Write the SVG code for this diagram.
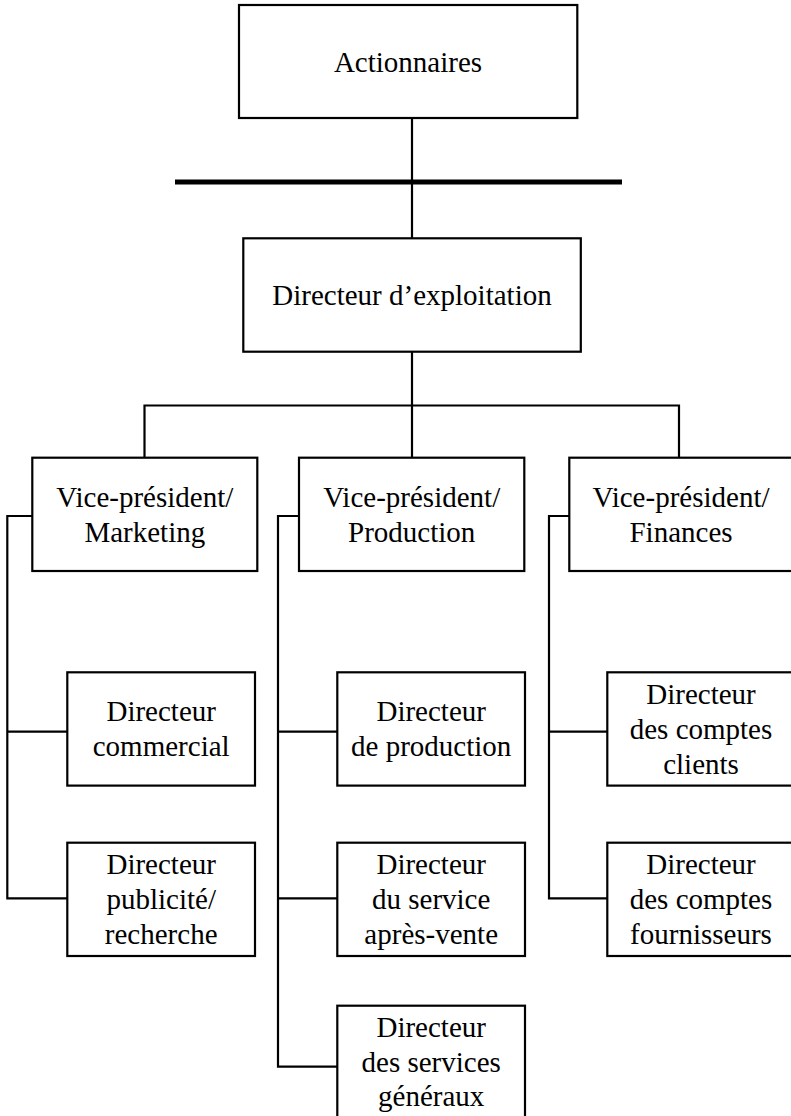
<svg xmlns="http://www.w3.org/2000/svg" width="791" height="1116" viewBox="0 0 791 1116">
<style>
.box{fill:#fff;stroke:#000;stroke-width:2.2}
.ln{fill:none;stroke:#000;stroke-width:2.2}
.thick{fill:none;stroke:#000;stroke-width:5}
text{font-family:"Liberation Serif","Times New Roman",serif;font-size:29px;fill:#000;text-anchor:middle}
</style>
<rect width="791" height="1116" fill="#fff"/>
<g id="connectors">
<line class="thick" x1="175" y1="182" x2="622" y2="182"/>
<line class="ln" x1="412" y1="118" x2="412" y2="238.3"/>
<line class="ln" x1="412" y1="351.7" x2="412" y2="457.7"/>
<polyline class="ln" points="144.5,457.7 144.5,405.5 679,405.5 679,459"/>
<polyline class="ln" points="32.3,516 7.3,516 7.3,898.3 67.3,898.3"/>
<line class="ln" x1="7.3" y1="731.7" x2="67.3" y2="731.7"/>
<polyline class="ln" points="299,516 278,516 278,1066.7 337.3,1066.7"/>
<line class="ln" x1="278" y1="731.7" x2="337.3" y2="731.7"/>
<line class="ln" x1="278" y1="898.3" x2="337.3" y2="898.3"/>
<polyline class="ln" points="569.3,516 549,516 549,898.3 607.3,898.3"/>
<line class="ln" x1="549" y1="731.7" x2="607.3" y2="731.7"/>
</g>
<g id="actionnaires"><rect class="box" x="239" y="5" width="338.3" height="113"/><text x="408" y="71.5">Actionnaires</text></g>
<g id="directeur-exploitation"><rect class="box" x="243.3" y="238.3" width="337.5" height="113.4"/><text x="412" y="305">Directeur d’exploitation</text></g>
<g id="vp-marketing"><rect class="box" x="32.3" y="457.7" width="225" height="113.3"/><text x="144.8" y="506.5">Vice-président/</text><text x="144.8" y="542">Marketing</text></g>
<g id="vp-production"><rect class="box" x="299" y="457.7" width="225.3" height="113.3"/><text x="411.7" y="506.5">Vice-président/</text><text x="411.7" y="542">Production</text></g>
<g id="vp-finances"><rect class="box" x="569.3" y="457.7" width="225" height="113.3"/><text x="681" y="506.5">Vice-président/</text><text x="681" y="542">Finances</text></g>
<g id="dir-commercial"><rect class="box" x="67.3" y="672.3" width="187.7" height="113.3"/><text x="161.2" y="721">Directeur</text><text x="161.2" y="756">commercial</text></g>
<g id="dir-publicite"><rect class="box" x="67.3" y="842.7" width="187.7" height="113.3"/><text x="161.2" y="873.5">Directeur</text><text x="161.2" y="908.8">publicité/</text><text x="161.2" y="944.3">recherche</text></g>
<g id="dir-production"><rect class="box" x="337.3" y="672.3" width="187.7" height="113.3"/><text x="431.2" y="721">Directeur</text><text x="431.2" y="756">de production</text></g>
<g id="dir-apres-vente"><rect class="box" x="337.3" y="842.7" width="187.7" height="113.3"/><text x="431.2" y="873.5">Directeur</text><text x="431.2" y="908.8">du service</text><text x="431.2" y="944.3">après-vente</text></g>
<g id="dir-services-generaux"><rect class="box" x="337.3" y="1005.7" width="187.7" height="113.3"/><text x="431.2" y="1036.8">Directeur</text><text x="431.2" y="1071.8">des services</text><text x="431.2" y="1106">généraux</text></g>
<g id="dir-comptes-clients"><rect class="box" x="607.3" y="672.3" width="187.7" height="113.3"/><text x="701" y="703.5">Directeur</text><text x="701" y="738.8">des comptes</text><text x="701" y="774">clients</text></g>
<g id="dir-comptes-fournisseurs"><rect class="box" x="607.3" y="842.7" width="187.7" height="113.3"/><text x="701" y="873.5">Directeur</text><text x="701" y="908.8">des comptes</text><text x="701" y="944.3">fournisseurs</text></g>
</svg>
